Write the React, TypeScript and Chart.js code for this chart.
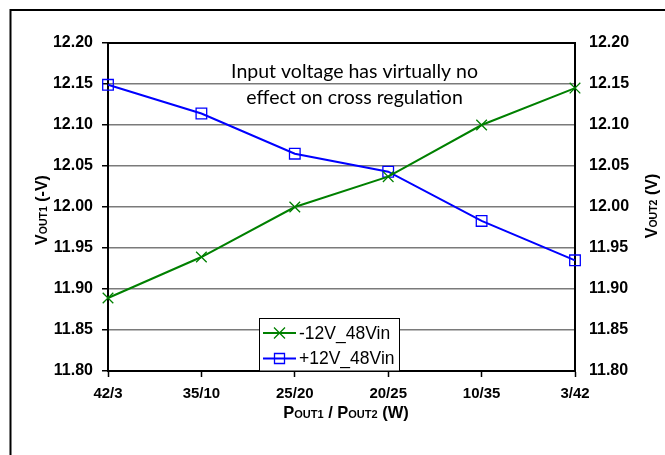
import React, { useEffect, useRef } from "react";
import { Chart, registerables } from "chart.js";

Chart.register(...registerables);

// ---- data ----
const categories = ["42/3", "35/10", "25/20", "20/25", "10/35", "3/42"];
const minus12V_48Vin = [11.889, 11.939, 12.0, 12.037, 12.1, 12.145];
const plus12V_48Vin = [12.149, 12.114, 12.065, 12.043, 11.983, 11.935];
const seriesLabels = ["-12V_48Vin", "+12V_48Vin"];
const yMin = 11.8;
const yMax = 12.2;
const yStep = 0.05;
const annotationLines = ["Input voltage has virtually no", "effect on cross regulation"];

const GREEN = "#008000";
const BLUE = "#0000ff";
const TICK_FONT = "'Liberation Sans', Arial, sans-serif";

type Part = { text: string; size: number };

function drawRich(ctx: CanvasRenderingContext2D, parts: Part[], cx: number, cy: number, angle: number) {
  ctx.save();
  ctx.translate(cx, cy);
  ctx.rotate(angle);
  ctx.fillStyle = "#000";
  ctx.textBaseline = "alphabetic";
  ctx.textAlign = "left";
  const widths = parts.map((p) => {
    ctx.font = `bold ${p.size}px ${TICK_FONT}`;
    return ctx.measureText(p.text).width;
  });
  const total = widths.reduce((a, b) => a + b, 0);
  let x = -total / 2;
  parts.forEach((p, i) => {
    ctx.font = `bold ${p.size}px ${TICK_FONT}`;
    ctx.fillText(p.text, x, 6);
    x += widths[i];
  });
  ctx.restore();
}

function drawMarker(ctx: CanvasRenderingContext2D, style: string, x: number, y: number, color: string) {
  ctx.save();
  ctx.strokeStyle = color;
  ctx.lineWidth = 1.3;
  ctx.beginPath();
  if (style === "rect") {
    ctx.rect(x - 5, y - 5, 10, 10);
  } else {
    ctx.moveTo(x - 5.5, y - 5.5);
    ctx.lineTo(x + 5.5, y + 5.5);
    ctx.moveTo(x - 5.5, y + 5.5);
    ctx.lineTo(x + 5.5, y - 5.5);
  }
  ctx.stroke();
  ctx.restore();
}

const decorPlugin = {
  id: "decor",
  beforeDraw(chart: any) {
    const ctx: CanvasRenderingContext2D = chart.ctx;
    ctx.save();
    ctx.fillStyle = "#fff";
    ctx.fillRect(0, 0, chart.width, chart.height);
    ctx.strokeStyle = "#000";
    ctx.lineWidth = 2;
    ctx.beginPath();
    ctx.moveTo(10.5, chart.height + 5);
    ctx.lineTo(10.5, 10);
    ctx.lineTo(chart.width + 5, 10);
    ctx.stroke();
    ctx.restore();
  },
  beforeDatasetsDraw(chart: any) {
    const ctx: CanvasRenderingContext2D = chart.ctx;
    const a = chart.chartArea;
    ctx.save();
    ctx.strokeStyle = "#000";
    ctx.lineWidth = 2;
    ctx.strokeRect(a.left, a.top, a.right - a.left, a.bottom - a.top);
    ctx.restore();
  },
  afterDraw(chart: any) {
    const ctx: CanvasRenderingContext2D = chart.ctx;
    const a = chart.chartArea;

    // annotation text
    ctx.save();
    ctx.fillStyle = "#000";
    ctx.font = "19.5px Lato, 'DejaVu Sans', sans-serif";
    ctx.textAlign = "center";
    ctx.textBaseline = "middle";
    const cx = a.left + (a.right - a.left) * 0.528;
    ctx.fillText(annotationLines[0], cx, 72);
    ctx.fillText(annotationLines[1], cx, 98);
    ctx.restore();

    // legend
    const lx = 259.5;
    const ly = 318.5;
    const lw = 140;
    const lh = a.bottom - ly;
    ctx.save();
    ctx.fillStyle = "#fff";
    ctx.fillRect(lx, ly, lw, lh);
    ctx.strokeStyle = "#000";
    ctx.lineWidth = 1;
    ctx.strokeRect(lx, ly, lw, lh);
    chart.data.datasets.forEach((ds: any, i: number) => {
      const y = 333 + i * 25.5;
      ctx.strokeStyle = ds.borderColor;
      ctx.lineWidth = 2;
      ctx.beginPath();
      ctx.moveTo(263, y);
      ctx.lineTo(296, y);
      ctx.stroke();
      drawMarker(ctx, ds.pointStyle, 279.5, y, ds.borderColor);
      ctx.fillStyle = "#000";
      ctx.font = `17.5px ${TICK_FONT}`;
      ctx.textAlign = "left";
      ctx.textBaseline = "middle";
      ctx.fillText(ds.label, 299, y + 1);
    });
    ctx.restore();

    // axis titles
    drawRich(
      ctx,
      [
        { text: "P", size: 16.5 },
        { text: "OUT1", size: 11 },
        { text: " / P", size: 16.5 },
        { text: "OUT2", size: 11 },
        { text: " (W)", size: 16.5 },
      ],
      346,
      412,
      0
    );
    drawRich(
      ctx,
      [
        { text: "V", size: 16 },
        { text: "OUT1", size: 10.5 },
        { text: " (-V)", size: 16 },
      ],
      41,
      210,
      -Math.PI / 2
    );
    drawRich(
      ctx,
      [
        { text: "V", size: 16 },
        { text: "OUT2", size: 10.5 },
        { text: " (V)", size: 16 },
      ],
      651,
      206,
      -Math.PI / 2
    );
  },
};

export default function App() {
  const ref = useRef<HTMLCanvasElement | null>(null);

  useEffect(() => {
    if (!ref.current) return;
    const chart = new Chart(ref.current, {
      type: "line",
      data: {
        labels: categories,
        datasets: [
          {
            label: seriesLabels[0],
            data: minus12V_48Vin,
            borderColor: GREEN,
            backgroundColor: GREEN,
            borderWidth: 2,
            pointStyle: "crossRot",
            pointRadius: 7.5,
            pointBorderWidth: 1.3,
            pointBorderColor: GREEN,
            pointBackgroundColor: "transparent",
            yAxisID: "y",
            tension: 0,
          },
          {
            label: seriesLabels[1],
            data: plus12V_48Vin,
            borderColor: BLUE,
            backgroundColor: BLUE,
            borderWidth: 2,
            pointStyle: "rect",
            pointRadius: 7.5,
            pointBorderWidth: 1.3,
            pointBorderColor: BLUE,
            pointBackgroundColor: "transparent",
            yAxisID: "y1",
            tension: 0,
          },
        ],
      },
      options: {
        responsive: false,
        maintainAspectRatio: false,
        animation: false,
        devicePixelRatio: 1,
        layout: { padding: { top: 43, left: 0, right: 0, bottom: 0 } },
        plugins: {
          legend: { display: false },
          tooltip: { enabled: false },
          title: { display: false },
        },
        scales: {
          x: {
            type: "category",
            offset: false,
            grid: {
              drawOnChartArea: false,
              drawTicks: true,
              tickLength: 6,
              tickColor: "#000",
              tickWidth: 1.5,
            },
            border: { color: "#000", width: 2 },
            ticks: {
              color: "#000",
              font: { family: TICK_FONT, size: 15, weight: "bold" },
              padding: 8,
              maxRotation: 0,
              autoSkip: false,
            },
            afterFit: (s: any) => {
              s.height = 84;
            },
          },
          y: {
            position: "left",
            min: yMin,
            max: yMax,
            grid: {
              color: "#7a7a7a",
              lineWidth: 1.5,
              drawTicks: true,
              tickLength: 6,
              tickColor: "#000",
              tickWidth: 1.5,
            },
            border: { color: "#000", width: 2 },
            ticks: {
              stepSize: yStep,
              color: "#000",
              font: { family: TICK_FONT, size: 16, weight: "bold" },
              padding: 9,
              callback: (v: any) => Number(v).toFixed(2),
            },
            afterFit: (s: any) => {
              s.width = 108;
            },
          },
          y1: {
            position: "right",
            min: yMin,
            max: yMax,
            grid: { drawOnChartArea: false, drawTicks: false },
            border: { color: "#000", width: 2 },
            ticks: {
              stepSize: yStep,
              color: "#000",
              font: { family: TICK_FONT, size: 16, weight: "bold" },
              padding: 14,
              callback: (v: any) => Number(v).toFixed(2),
            },
            afterFit: (s: any) => {
              s.width = 90;
            },
          },
        },
      },
      plugins: [decorPlugin],
    });
    return () => chart.destroy();
  }, []);

  return (
    <div style={{ position: "fixed", left: 0, top: 0, width: 665, height: 455, background: "#fff" }}>
      <canvas ref={ref} width={665} height={455} style={{ display: "block", width: 665, height: 455 }} />
    </div>
  );
}
